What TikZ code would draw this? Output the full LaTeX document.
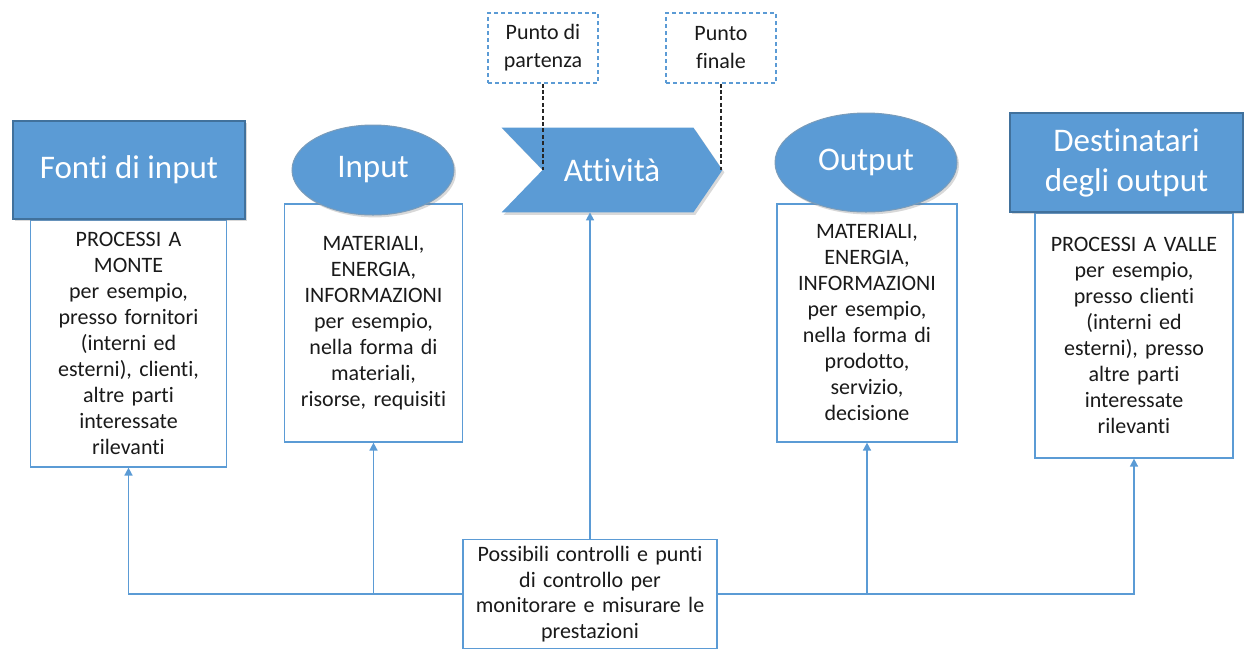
\documentclass[tikz,border=0pt]{standalone}
\usepackage{fontspec}
\setmainfont{Carlito}[Ligatures=NoCommon]
\usepackage{tikz}
\usetikzlibrary{arrows.meta, positioning, shapes.geometric, shadows, backgrounds}

\definecolor{procblue}{HTML}{5B9BD5}
\definecolor{procedge}{HTML}{41719C}
\definecolor{proctext}{HTML}{1A1A1A}

\tikzset{
	softshadow/.style={drop shadow={shadow xshift=1pt, shadow yshift=-1.2pt, opacity=0.3}},
	headtxt/.style={text=white, align=center, font=\fontsize{16.5}{20}\selectfont},
	head/.style={headtxt, rectangle, fill=procblue, draw=procedge, line width=0.8pt, softshadow},
	headell/.style={headtxt, ellipse, fill=procblue, draw=procedge!70, line width=0.5pt, inner sep=0pt, softshadow},
	txtbox/.style={rectangle, draw=procblue, line width=0.8pt, fill=white, text=proctext, align=center, inner xsep=2pt, font=\fontsize{11}{13}\selectfont},
	notebox/.style={rectangle, draw=procblue, dash pattern=on 2pt off 1.5pt, line width=0.6pt, text=proctext, align=center, font=\fontsize{11}{14}\selectfont, minimum width=55pt, minimum height=35pt},
	link/.style={procblue, line width=0.8pt, -{Triangle[length=4pt,width=4pt]}},
	pin/.style={black!85, dash pattern=on 2pt off 1.2pt, line width=0.7pt}
}

\begin{document}
\begin{tikzpicture}[x=0.5pt, y=-0.5pt]
	\useasboundingbox (0,0) rectangle (1244,650);

	% Text boxes
	\node[txtbox, anchor=north, text width=94pt, minimum height=123.5pt] (fontibox) at (128.5,219) {PROCESSI A\\MONTE\\per esempio,\\presso fornitori\\(interni ed\\esterni), clienti,\\altre parti\\interessate\\rilevanti};
	\node[txtbox, anchor=north, text width=85pt, minimum height=119pt] (inbox) at (373.5,203) {MATERIALI,\\ENERGIA,\\INFORMAZIONI\\per esempio,\\nella forma di\\materiali,\\risorse, requisiti};
	\node[txtbox, anchor=north, text width=86pt, minimum height=119pt] (outbox) at (867,203) {MATERIALI,\\ENERGIA,\\INFORMAZIONI\\per esempio,\\nella forma di\\prodotto,\\servizio,\\decisione};
	\node[txtbox, anchor=north, text width=95pt, minimum height=122.5pt] (destbox) at (1134,212) {PROCESSI A VALLE\\per esempio,\\presso clienti\\(interni ed\\esterni), presso\\altre parti\\interessate\\rilevanti};
	\node[txtbox, text width=123pt, minimum height=54pt, font=\fontsize{11}{12.75}\selectfont] (ctrl) at (590,594) {Possibili controlli e punti\\di controllo per\\monitorare e misurare le\\prestazioni};

	% Headers
	\node[head, minimum width=116pt, minimum height=49pt] (fonti) at (129,170) {Fonti di input};
	\node[headell, minimum width=81pt, minimum height=45pt] (inell) at (373,170) {Input};
	\node[headtxt, minimum width=110pt, minimum height=42pt] (att) at (612,170) {Attività};
	\node[headell, minimum width=91pt, minimum height=49.5pt] (outell) at (866,162.5) {Output};
	\node[head, minimum width=116.5pt, minimum height=49.5pt] (dest) at (1126.5,162.5) {Destinatari\\degli output};
	\begin{scope}[on background layer]
		\fill[procblue, softshadow] (att.north west) -- ([xshift=-14.5pt]att.north east) -- (att.east)
			-- ([xshift=-14.5pt]att.south east) -- (att.south west) -- ([xshift=20.5pt]att.west) -- cycle;
	\end{scope}

	% Start and end points
	\node[notebox] (start) at (543,48) {Punto di\\partenza};
	\node[notebox] (finish) at (721,48) {Punto\\finale};
	\draw[pin] (start.south) -- (start.south |- att.center);
	\draw[pin] (finish.south) -- (finish.south |- att.center);

	% Control links
	\foreach \b in {fontibox,inbox} {
		\draw[link] (ctrl.west) -| (\b.south);
	}
	\foreach \b in {outbox,destbox} {
		\draw[link] (ctrl.east) -| (\b.south);
	}
	\draw[link] (ctrl.north) -- (ctrl.north |- att.south);
\end{tikzpicture}
\end{document}
